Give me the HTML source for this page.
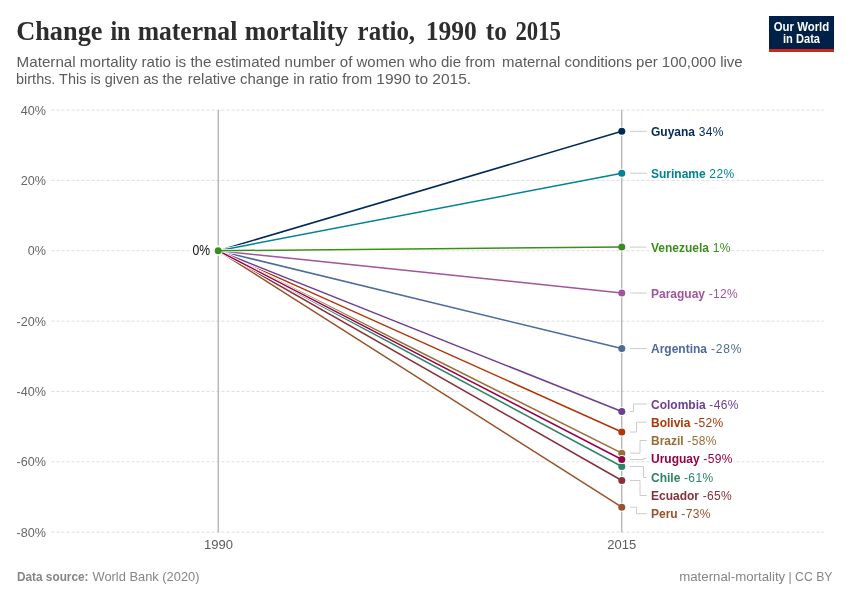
<!DOCTYPE html>
<html lang="en"><head><meta charset="utf-8"><title>Change in maternal mortality ratio, 1990 to 2015</title>
<style>
html,body{margin:0;padding:0;background:#fff;}
body{width:850px;height:600px;overflow:hidden;font-family:"Liberation Sans",sans-serif;}
svg{display:block;}
text{font-family:"Liberation Sans",sans-serif;}
.title text{font-family:"Liberation Serif",serif;font-weight:700;font-size:26.8px;fill:#2d2d2d;}
.sub text{font-size:15px;fill:#5b5b5b;}
.ax{font-size:12.6px;fill:#666;}
.yr{font-size:13px;fill:#5b5b5b;}
.ft{font-size:13px;fill:#858585;}
.lb{font-size:12px;}
.v{letter-spacing:0.35px;}
.halo{paint-order:stroke;stroke:#fff;stroke-width:3px;stroke-linejoin:round;}
</style></head><body>
<svg width="850" height="600" viewBox="0 0 850 600">
<rect width="850" height="600" fill="#fff"/>
<g class="title"><text x="16.2" y="39.8" textLength="86.3" lengthAdjust="spacingAndGlyphs">Change</text><text x="110.4" y="39.8" textLength="20.1" lengthAdjust="spacingAndGlyphs">in</text><text x="137.7" y="39.8" textLength="99.6" lengthAdjust="spacingAndGlyphs">maternal</text><text x="244.8" y="39.8" textLength="103.2" lengthAdjust="spacingAndGlyphs">mortality</text><text x="357.6" y="39.8" textLength="57.5" lengthAdjust="spacingAndGlyphs">ratio,</text><text x="425.8" y="39.8" textLength="51.1" lengthAdjust="spacingAndGlyphs">1990</text><text x="485.8" y="39.8" textLength="21.1" lengthAdjust="spacingAndGlyphs">to</text><text x="515.4" y="39.8" textLength="45.5" lengthAdjust="spacingAndGlyphs">2015</text></g>
<g class="sub"><text x="16.6" y="66.7" textLength="194.9" lengthAdjust="spacingAndGlyphs">Maternal mortality ratio is the</text><text x="215.2" y="66.7" textLength="280.1" lengthAdjust="spacingAndGlyphs">estimated number of women who die from</text><text x="502.1" y="66.7" textLength="240.5" lengthAdjust="spacingAndGlyphs">maternal conditions per 100,000 live</text></g>
<g class="sub"><text x="16.1" y="84.4" textLength="166.5" lengthAdjust="spacingAndGlyphs">births. This is given as the</text><text x="187.8" y="84.4" textLength="184.3" lengthAdjust="spacingAndGlyphs">relative change in ratio from</text><text x="376.3" y="84.4" textLength="94.8" lengthAdjust="spacingAndGlyphs">1990 to 2015.</text></g>
<g><rect x="769" y="16" width="65" height="36" fill="#002147"/><rect x="769" y="49" width="65" height="3" fill="#ce261e"/><text x="801.5" y="31" text-anchor="middle" font-size="12" font-weight="700" fill="#fff" textLength="55.5" lengthAdjust="spacingAndGlyphs">Our World</text><text x="801.5" y="42.8" text-anchor="middle" font-size="12" font-weight="700" fill="#fff" textLength="37" lengthAdjust="spacingAndGlyphs">in Data</text></g>
<line x1="51.5" x2="824" y1="110.1" y2="110.1" stroke="#ddd" stroke-width="1" stroke-dasharray="3,2"/><text class="ax" x="46" y="114.5" text-anchor="end">40%</text>
<line x1="51.5" x2="824" y1="180.4" y2="180.4" stroke="#ddd" stroke-width="1" stroke-dasharray="3,2"/><text class="ax" x="46" y="184.8" text-anchor="end">20%</text>
<line x1="51.5" x2="824" y1="250.7" y2="250.7" stroke="#ddd" stroke-width="1" stroke-dasharray="3,2"/><text class="ax" x="46" y="255.1" text-anchor="end">0%</text>
<line x1="51.5" x2="824" y1="321.15" y2="321.15" stroke="#ddd" stroke-width="1" stroke-dasharray="3,2"/><text class="ax" x="46" y="325.5" text-anchor="end">-20%</text>
<line x1="51.5" x2="824" y1="391.45" y2="391.45" stroke="#ddd" stroke-width="1" stroke-dasharray="3,2"/><text class="ax" x="46" y="395.8" text-anchor="end">-40%</text>
<line x1="51.5" x2="824" y1="461.8" y2="461.8" stroke="#ddd" stroke-width="1" stroke-dasharray="3,2"/><text class="ax" x="46" y="466.2" text-anchor="end">-60%</text>
<line x1="51.5" x2="824" y1="532.15" y2="532.15" stroke="#ddd" stroke-width="1" stroke-dasharray="3,2"/><text class="ax" x="46" y="536.5" text-anchor="end">-80%</text>
<line x1="218.2" x2="218.2" y1="110" y2="532.3" stroke="#999" stroke-width="1"/>
<line x1="621.8" x2="621.8" y1="110" y2="532.3" stroke="#999" stroke-width="1"/>
<text class="yr" x="218.5" y="549.4" text-anchor="middle">1990</text><text class="yr" x="621.8" y="549.4" text-anchor="middle">2015</text>
<circle cx="218.2" cy="250.7" r="5.1" fill="#fff"/>
<g><line x1="218.2" y1="250.7" x2="621.8" y2="348.5" stroke="#fff" stroke-width="3.1"/><circle cx="218.2" cy="250.7" r="4.5" fill="#fff"/><circle cx="621.8" cy="348.5" r="4.5" fill="#fff"/><line x1="218.2" y1="250.7" x2="621.8" y2="348.5" stroke="#4C6A9C" stroke-width="1.5"/><circle cx="218.2" cy="250.7" r="3.5" fill="#4C6A9C"/><circle cx="621.8" cy="348.5" r="3.5" fill="#4C6A9C"/></g>
<g><line x1="218.2" y1="250.7" x2="621.8" y2="432.0" stroke="#fff" stroke-width="3.1"/><circle cx="218.2" cy="250.7" r="4.5" fill="#fff"/><circle cx="621.8" cy="432.0" r="4.5" fill="#fff"/><line x1="218.2" y1="250.7" x2="621.8" y2="432.0" stroke="#B13507" stroke-width="1.5"/><circle cx="218.2" cy="250.7" r="3.5" fill="#B13507"/><circle cx="621.8" cy="432.0" r="3.5" fill="#B13507"/></g>
<g><line x1="218.2" y1="250.7" x2="621.8" y2="453.2" stroke="#fff" stroke-width="3.1"/><circle cx="218.2" cy="250.7" r="4.5" fill="#fff"/><circle cx="621.8" cy="453.2" r="4.5" fill="#fff"/><line x1="218.2" y1="250.7" x2="621.8" y2="453.2" stroke="#996D39" stroke-width="1.5"/><circle cx="218.2" cy="250.7" r="3.5" fill="#996D39"/><circle cx="621.8" cy="453.2" r="3.5" fill="#996D39"/></g>
<g><line x1="218.2" y1="250.7" x2="621.8" y2="466.5" stroke="#fff" stroke-width="3.1"/><circle cx="218.2" cy="250.7" r="4.5" fill="#fff"/><circle cx="621.8" cy="466.5" r="4.5" fill="#fff"/><line x1="218.2" y1="250.7" x2="621.8" y2="466.5" stroke="#2C8465" stroke-width="1.5"/><circle cx="218.2" cy="250.7" r="3.5" fill="#2C8465"/><circle cx="621.8" cy="466.5" r="3.5" fill="#2C8465"/></g>
<g><line x1="218.2" y1="250.7" x2="621.8" y2="411.5" stroke="#fff" stroke-width="3.1"/><circle cx="218.2" cy="250.7" r="4.5" fill="#fff"/><circle cx="621.8" cy="411.5" r="4.5" fill="#fff"/><line x1="218.2" y1="250.7" x2="621.8" y2="411.5" stroke="#6D3E91" stroke-width="1.5"/><circle cx="218.2" cy="250.7" r="3.5" fill="#6D3E91"/><circle cx="621.8" cy="411.5" r="3.5" fill="#6D3E91"/></g>
<g><line x1="218.2" y1="250.7" x2="621.8" y2="480.5" stroke="#fff" stroke-width="3.1"/><circle cx="218.2" cy="250.7" r="4.5" fill="#fff"/><circle cx="621.8" cy="480.5" r="4.5" fill="#fff"/><line x1="218.2" y1="250.7" x2="621.8" y2="480.5" stroke="#883039" stroke-width="1.5"/><circle cx="218.2" cy="250.7" r="3.5" fill="#883039"/><circle cx="621.8" cy="480.5" r="3.5" fill="#883039"/></g>
<g><line x1="218.2" y1="250.7" x2="621.8" y2="131.3" stroke="#fff" stroke-width="3.1"/><circle cx="218.2" cy="250.7" r="4.5" fill="#fff"/><circle cx="621.8" cy="131.3" r="4.5" fill="#fff"/><line x1="218.2" y1="250.7" x2="621.8" y2="131.3" stroke="#00295B" stroke-width="1.5"/><circle cx="218.2" cy="250.7" r="3.5" fill="#00295B"/><circle cx="621.8" cy="131.3" r="3.5" fill="#00295B"/></g>
<g><line x1="218.2" y1="250.7" x2="621.8" y2="293.0" stroke="#fff" stroke-width="3.1"/><circle cx="218.2" cy="250.7" r="4.5" fill="#fff"/><circle cx="621.8" cy="293.0" r="4.5" fill="#fff"/><line x1="218.2" y1="250.7" x2="621.8" y2="293.0" stroke="#A2559C" stroke-width="1.5"/><circle cx="218.2" cy="250.7" r="3.5" fill="#A2559C"/><circle cx="621.8" cy="293.0" r="3.5" fill="#A2559C"/></g>
<g><line x1="218.2" y1="250.7" x2="621.8" y2="507.2" stroke="#fff" stroke-width="3.1"/><circle cx="218.2" cy="250.7" r="4.5" fill="#fff"/><circle cx="621.8" cy="507.2" r="4.5" fill="#fff"/><line x1="218.2" y1="250.7" x2="621.8" y2="507.2" stroke="#9A5129" stroke-width="1.5"/><circle cx="218.2" cy="250.7" r="3.5" fill="#9A5129"/><circle cx="621.8" cy="507.2" r="3.5" fill="#9A5129"/></g>
<g><line x1="218.2" y1="250.7" x2="621.8" y2="173.2" stroke="#fff" stroke-width="3.1"/><circle cx="218.2" cy="250.7" r="4.5" fill="#fff"/><circle cx="621.8" cy="173.2" r="4.5" fill="#fff"/><line x1="218.2" y1="250.7" x2="621.8" y2="173.2" stroke="#008295" stroke-width="1.5"/><circle cx="218.2" cy="250.7" r="3.5" fill="#008295"/><circle cx="621.8" cy="173.2" r="3.5" fill="#008295"/></g>
<g><line x1="218.2" y1="250.7" x2="621.8" y2="459.5" stroke="#fff" stroke-width="3.1"/><circle cx="218.2" cy="250.7" r="4.5" fill="#fff"/><circle cx="621.8" cy="459.5" r="4.5" fill="#fff"/><line x1="218.2" y1="250.7" x2="621.8" y2="459.5" stroke="#970046" stroke-width="1.5"/><circle cx="218.2" cy="250.7" r="3.5" fill="#970046"/><circle cx="621.8" cy="459.5" r="3.5" fill="#970046"/></g>
<g><line x1="218.2" y1="250.7" x2="621.8" y2="247.1" stroke="#fff" stroke-width="3.1"/><circle cx="218.2" cy="250.7" r="4.5" fill="#fff"/><circle cx="621.8" cy="247.1" r="4.5" fill="#fff"/><line x1="218.2" y1="250.7" x2="621.8" y2="247.1" stroke="#3B8E1D" stroke-width="1.5"/><circle cx="218.2" cy="250.7" r="3.5" fill="#3B8E1D"/><circle cx="621.8" cy="247.1" r="3.5" fill="#3B8E1D"/></g>
<text class="halo" style="stroke-width:4.5px" x="210.2" y="254.7" text-anchor="end" font-size="14.2" fill="#111" textLength="17.6" lengthAdjust="spacingAndGlyphs">0%</text>
<path d="M630,348.5H646.7" fill="none" stroke="#ccc" stroke-width="1"/><text class="lb halo" x="651" y="353.0" fill="#4C6A9C"><tspan font-weight="700">Argentina</tspan><tspan class="v" style="letter-spacing:0.75px"> -28%</tspan></text>
<path d="M630,432.0H636.5V422.2H646.7" fill="none" stroke="#ccc" stroke-width="1"/><text class="lb halo" x="651" y="426.7" fill="#B13507"><tspan font-weight="700">Bolivia</tspan><tspan class="v"> -52%</tspan></text>
<path d="M630,453.2H640.0V440.5H646.7" fill="none" stroke="#ccc" stroke-width="1"/><text class="lb halo" x="651" y="445.0" fill="#996D39"><tspan font-weight="700">Brazil</tspan><tspan class="v"> -58%</tspan></text>
<path d="M630,466.5H643.5V477.5H646.7" fill="none" stroke="#ccc" stroke-width="1"/><text class="lb halo" x="651" y="482.0" fill="#2C8465"><tspan font-weight="700">Chile</tspan><tspan class="v"> -61%</tspan></text>
<path d="M630,411.5H633.5V404.0H646.7" fill="none" stroke="#ccc" stroke-width="1"/><text class="lb halo" x="651" y="408.5" fill="#6D3E91"><tspan font-weight="700">Colombia</tspan><tspan class="v"> -46%</tspan></text>
<path d="M630,480.5H640.0V495.5H646.7" fill="none" stroke="#ccc" stroke-width="1"/><text class="lb halo" x="651" y="500.0" fill="#883039"><tspan font-weight="700">Ecuador</tspan><tspan class="v"> -65%</tspan></text>
<path d="M630,131.3H646.7" fill="none" stroke="#ccc" stroke-width="1"/><text class="lb halo" x="651" y="135.8" fill="#00295B"><tspan font-weight="700">Guyana</tspan><tspan class="v"> 34%</tspan></text>
<path d="M630,293.0H646.7" fill="none" stroke="#ccc" stroke-width="1"/><text class="lb halo" x="651" y="297.5" fill="#A2559C"><tspan font-weight="700">Paraguay</tspan><tspan class="v"> -12%</tspan></text>
<path d="M630,507.2H636.5V513.7H646.7" fill="none" stroke="#ccc" stroke-width="1"/><text class="lb halo" x="651" y="518.2" fill="#9A5129"><tspan font-weight="700">Peru</tspan><tspan class="v"> -73%</tspan></text>
<path d="M630,173.2H646.7" fill="none" stroke="#ccc" stroke-width="1"/><text class="lb halo" x="651" y="177.7" fill="#008295"><tspan font-weight="700">Suriname</tspan><tspan class="v"> 22%</tspan></text>
<path d="M630,459.5H643.5V458.3H646.7" fill="none" stroke="#ccc" stroke-width="1"/><text class="lb halo" x="651" y="462.8" fill="#970046"><tspan font-weight="700">Uruguay</tspan><tspan class="v"> -59%</tspan></text>
<path d="M630,247.1H646.7" fill="none" stroke="#ccc" stroke-width="1"/><text class="lb halo" x="651" y="251.6" fill="#3B8E1D"><tspan font-weight="700">Venezuela</tspan><tspan class="v"> 1%</tspan></text>
<text class="ft" x="17" y="581.3" font-weight="700" textLength="71.5" lengthAdjust="spacingAndGlyphs">Data source:</text><text class="ft" x="92.5" y="581.3" textLength="107" lengthAdjust="spacingAndGlyphs">World Bank (2020)</text>
<text class="ft" x="679.2" y="581.3" textLength="106" lengthAdjust="spacingAndGlyphs">maternal-mortality</text><text class="ft" x="832.5" y="581.3" text-anchor="end" textLength="44" lengthAdjust="spacingAndGlyphs">| CC BY</text>
</svg></body></html>
